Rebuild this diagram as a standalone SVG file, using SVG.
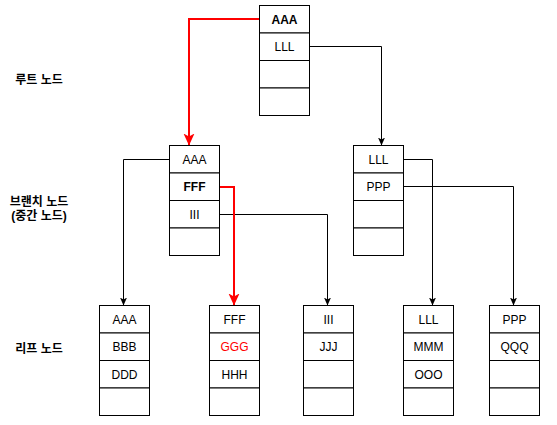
<svg xmlns="http://www.w3.org/2000/svg" width="557" height="425" viewBox="0 0 557 425">
  <style>
    .cell { fill: #ffffff; stroke: #000000; stroke-width: 1; }
    .t { font-family: "Liberation Sans", Arial, Helvetica, sans-serif; font-size: 12px; fill: #000000; text-anchor: middle; }
    .b { font-weight: bold; }
    .r { fill: #ff0000; }
    .lbl { font-family: "Liberation Sans", "Noto Sans CJK KR", sans-serif; font-size: 12px; font-weight: bold; fill: #000000; text-anchor: middle; }
    .edge { fill: none; stroke: #000000; stroke-width: 1; }
    .edge-red { fill: none; stroke: #ff0000; stroke-width: 2; }
  </style>
  <defs>
    <marker id="arrow" markerUnits="userSpaceOnUse" markerWidth="8" markerHeight="8" refX="8" refY="4" orient="auto">
      <path d="M0,0.5 L8,4 L0,7.5 L2,4 z" fill="#000000"/>
    </marker>
    <marker id="arrowRed" markerUnits="userSpaceOnUse" markerWidth="13" markerHeight="12" refX="12" refY="6" orient="auto">
      <path d="M0,0.5 L12,6 L0,11.5 L3,6 z" fill="#ff0000"/>
    </marker>
  </defs>

  <rect width="557" height="425" fill="#ffffff"/>

  <g id="labels">
    <text class="lbl" x="39" y="84">루트 노드</text>
    <text class="lbl" x="39" y="206">브랜치 노드</text>
    <text class="lbl" x="39" y="220">(중간 노드)</text>
    <text class="lbl" x="39" y="353">리프 노드</text>
  </g>

  <g id="connectors">
    <path class="edge" d="M309.5,46.5 H381.5 V145.5" marker-end="url(#arrow)"/>
    <path class="edge" d="M169.5,159.5 H123.5 V305.5" marker-end="url(#arrow)"/>
    <path class="edge" d="M219.5,214.5 H327.5 V305.5" marker-end="url(#arrow)"/>
    <path class="edge" d="M403.5,159.5 H432.5 V305.5" marker-end="url(#arrow)"/>
    <path class="edge" d="M403.5,186.5 H513.5 V305.5" marker-end="url(#arrow)"/>
    <path class="edge-red" d="M259.5,19 H189 V145.5" marker-end="url(#arrowRed)"/>
    <path class="edge-red" d="M219.5,187 H234 V305.5" marker-end="url(#arrowRed)"/>
  </g>

  <g id="root" transform="translate(259.5,5.5)">
    <rect class="cell" x="0" y="0" width="50" height="27.5"/>
    <rect class="cell" x="0" y="27.5" width="50" height="27.5"/>
    <rect class="cell" x="0" y="55" width="50" height="27.5"/>
    <rect class="cell" x="0" y="82.5" width="50" height="27.5"/>
    <text class="t b" x="25" y="18">AAA</text>
    <text class="t" x="25" y="45.5">LLL</text>
  </g>

  <g id="branch-left" transform="translate(169.5,145.5)">
    <rect class="cell" x="0" y="0" width="50" height="27.5"/>
    <rect class="cell" x="0" y="27.5" width="50" height="27.5"/>
    <rect class="cell" x="0" y="55" width="50" height="27.5"/>
    <rect class="cell" x="0" y="82.5" width="50" height="27.5"/>
    <text class="t" x="25" y="18">AAA</text>
    <text class="t b" x="25" y="45.5">FFF</text>
    <text class="t" x="25" y="73">III</text>
  </g>

  <g id="branch-right" transform="translate(353.5,145.5)">
    <rect class="cell" x="0" y="0" width="50" height="27.5"/>
    <rect class="cell" x="0" y="27.5" width="50" height="27.5"/>
    <rect class="cell" x="0" y="55" width="50" height="27.5"/>
    <rect class="cell" x="0" y="82.5" width="50" height="27.5"/>
    <text class="t" x="25" y="18">LLL</text>
    <text class="t" x="25" y="45.5">PPP</text>
  </g>

  <g id="leaf-1" transform="translate(99.5,305.5)">
    <rect class="cell" x="0" y="0" width="50" height="27.5"/>
    <rect class="cell" x="0" y="27.5" width="50" height="27.5"/>
    <rect class="cell" x="0" y="55" width="50" height="27.5"/>
    <rect class="cell" x="0" y="82.5" width="50" height="27.5"/>
    <text class="t" x="25" y="18">AAA</text>
    <text class="t" x="25" y="45.5">BBB</text>
    <text class="t" x="25" y="73">DDD</text>
  </g>

  <g id="leaf-2" transform="translate(209.5,305.5)">
    <rect class="cell" x="0" y="0" width="50" height="27.5"/>
    <rect class="cell" x="0" y="27.5" width="50" height="27.5"/>
    <rect class="cell" x="0" y="55" width="50" height="27.5"/>
    <rect class="cell" x="0" y="82.5" width="50" height="27.5"/>
    <text class="t" x="25" y="18">FFF</text>
    <text class="t r" x="25" y="45.5">GGG</text>
    <text class="t" x="25" y="73">HHH</text>
  </g>

  <g id="leaf-3" transform="translate(303.5,305.5)">
    <rect class="cell" x="0" y="0" width="50" height="27.5"/>
    <rect class="cell" x="0" y="27.5" width="50" height="27.5"/>
    <rect class="cell" x="0" y="55" width="50" height="27.5"/>
    <rect class="cell" x="0" y="82.5" width="50" height="27.5"/>
    <text class="t" x="25" y="18">III</text>
    <text class="t" x="25" y="45.5">JJJ</text>
  </g>

  <g id="leaf-4" transform="translate(403.5,305.5)">
    <rect class="cell" x="0" y="0" width="50" height="27.5"/>
    <rect class="cell" x="0" y="27.5" width="50" height="27.5"/>
    <rect class="cell" x="0" y="55" width="50" height="27.5"/>
    <rect class="cell" x="0" y="82.5" width="50" height="27.5"/>
    <text class="t" x="25" y="18">LLL</text>
    <text class="t" x="25" y="45.5">MMM</text>
    <text class="t" x="25" y="73">OOO</text>
  </g>

  <g id="leaf-5" transform="translate(489.5,305.5)">
    <rect class="cell" x="0" y="0" width="50" height="27.5"/>
    <rect class="cell" x="0" y="27.5" width="50" height="27.5"/>
    <rect class="cell" x="0" y="55" width="50" height="27.5"/>
    <rect class="cell" x="0" y="82.5" width="50" height="27.5"/>
    <text class="t" x="25" y="18">PPP</text>
    <text class="t" x="25" y="45.5">QQQ</text>
  </g>
</svg>
